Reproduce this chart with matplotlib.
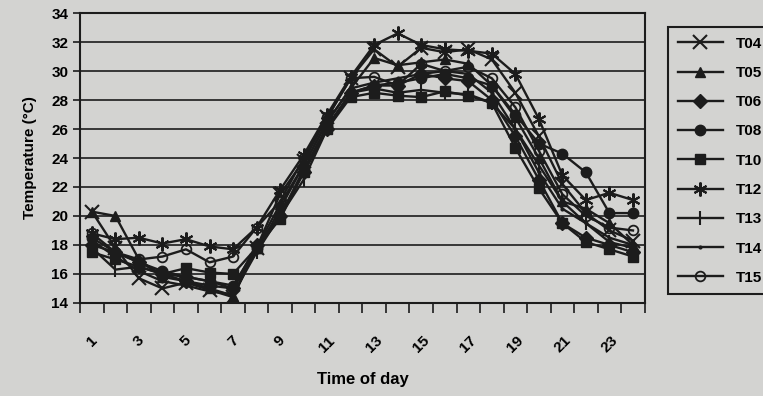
import matplotlib.pyplot as plt
import numpy as np

hours = list(range(1, 25))
labels = ['T04', 'T05', 'T06', 'T08', 'T10', 'T12', 'T13', 'T14', 'T15']
markers = ['x', '^', 'D', 'o', 's', (6, 2, 0), '|', '.', 'o']

t04 = [20.3, 17.8, 15.7, 15.0, 15.4, 14.9, 14.4, 17.8, 21.5, 23.8, 26.8, 29.5,
       31.5, 30.3, 31.6, 31.3, 31.5, 30.8, 28.5, 25.5, 22.2, 20.2, 19.0, 18.3]
t05 = [20.3, 20.0, 17.0, 15.8, 15.5, 15.0, 14.5, 17.8, 20.8, 23.5, 26.5, 28.8,
       30.9, 30.4, 30.6, 30.8, 30.5, 29.0, 26.8, 24.0, 21.0, 20.5, 19.5, 18.0]
t06 = [18.0, 17.5, 16.8, 16.0, 15.5, 15.2, 15.0, 18.0, 20.0, 23.0, 26.0, 28.5,
       29.0, 29.0, 29.8, 29.5, 29.3, 28.0, 25.5, 22.5, 19.5, 18.5, 18.0, 17.5]
t08 = [18.5, 17.5, 16.8, 16.2, 15.8, 15.5, 15.2, 17.8, 20.0, 23.2, 26.2, 28.5,
       29.0, 29.2, 29.5, 29.8, 29.5, 29.0, 27.0, 25.0, 24.3, 23.0, 20.2, 20.2]
t10 = [17.5, 17.0, 16.5, 16.0, 16.4, 16.1, 16.0, 17.8, 19.8, 23.0, 26.0, 28.2,
       28.5, 28.3, 28.2, 28.6, 28.3, 27.8, 24.7, 21.9, 19.5, 18.2, 17.7, 17.2]
t12 = [18.8, 18.4, 18.5, 18.1, 18.4, 17.9, 17.7, 19.2, 21.8, 24.2, 27.0, 29.6,
       31.8, 32.6, 31.8, 31.5, 31.4, 31.2, 29.8, 26.7, 22.8, 21.1, 21.6, 21.1]
t13 = [17.8, 16.3, 16.5, 16.0, 15.8, 15.5, 15.0, 17.5, 20.0, 22.5, 26.0, 28.5,
       28.8, 28.5, 28.7, 28.5, 28.4, 27.8, 26.0, 23.5, 21.0, 19.5, 18.2, 17.8]
t14 = [18.3, 17.2, 16.2, 15.5, 15.2, 14.8, 14.6, 17.5, 20.5, 23.5, 26.5, 28.8,
       29.2, 29.5, 29.8, 30.0, 29.8, 28.5, 26.0, 23.0, 20.5, 19.5, 18.5, 18.0]
t15 = [18.8, 17.5, 17.0, 17.2, 17.7, 16.8, 17.2, 19.2, 21.0, 24.0, 26.8, 29.5,
       29.6, 29.0, 30.5, 30.0, 30.3, 29.5, 27.5, 24.5, 21.5, 20.0, 19.2, 19.0]
series = [t04, t05, t06, t08, t10, t12, t13, t14, t15]

bg = '#d3d3d1'
ink = '#1c1c1c'
plt.rcParams['font.family'] = ['Liberation Sans', 'DejaVu Sans']

fig = plt.figure(figsize=(7.63, 3.96), dpi=100, facecolor=bg)
ax = fig.add_axes([0.105, 0.235, 0.74, 0.732], facecolor=bg)

for vals, lab, m in zip(series, labels, markers):
    kw = dict(color=ink, lw=1.7, marker=m, label=lab, markeredgecolor=ink)
    if lab == 'T15':
        kw.update(markerfacecolor='none', markersize=7, markeredgewidth=1.3)
    elif m in ('x', '|') or isinstance(m, tuple):
        kw.update(markersize=10, markeredgewidth=1.5)
    elif m == '.':
        kw.update(markersize=4)
    else:
        kw.update(markerfacecolor=ink, markersize=7.5)
    ax.plot(hours, vals, **kw)

ax.set_xlim(0.5, 24.5)
ax.set_ylim(14, 34)
ax.set_yticks(np.arange(14, 35, 2))
ax.yaxis.grid(True, color=ink, lw=1.2)
ax.set_axisbelow(True)
ax.set_xticks(np.arange(0.5, 25, 1))
ax.set_xticklabels([])
ax.set_xticks(hours[::2], minor=True)
ax.set_xticklabels([str(h) for h in hours[::2]], minor=True, rotation=45,
                   fontweight='bold', fontsize=11)
ax.tick_params(axis='x', which='minor', length=0, pad=22)
ax.tick_params(axis='x', which='major', length=7, width=1.2, color=ink)
ax.tick_params(axis='y', length=5, width=1.2, color=ink, labelsize=11)
for t in ax.get_yticklabels():
    t.set_fontweight('bold')
for s in ax.spines.values():
    s.set_color(ink)
    s.set_linewidth(1.5)

ax.set_ylabel('Temperature (°C)', fontweight='bold', fontsize=11, labelpad=10)
ax.set_xlabel('Time of day', fontweight='bold', fontsize=12, labelpad=12)

leg = fig.legend(loc='upper left', bbox_to_anchor=(0.866, 0.95), frameon=True,
                 fancybox=False, edgecolor=ink, facecolor=bg, framealpha=1,
                 prop={'weight': 'bold', 'size': 11}, labelspacing=1.0,
                 handlelength=3.0, borderpad=0.6)
leg.get_frame().set_linewidth(1.5)

fig.savefig('out.png', dpi=100, facecolor=bg)
